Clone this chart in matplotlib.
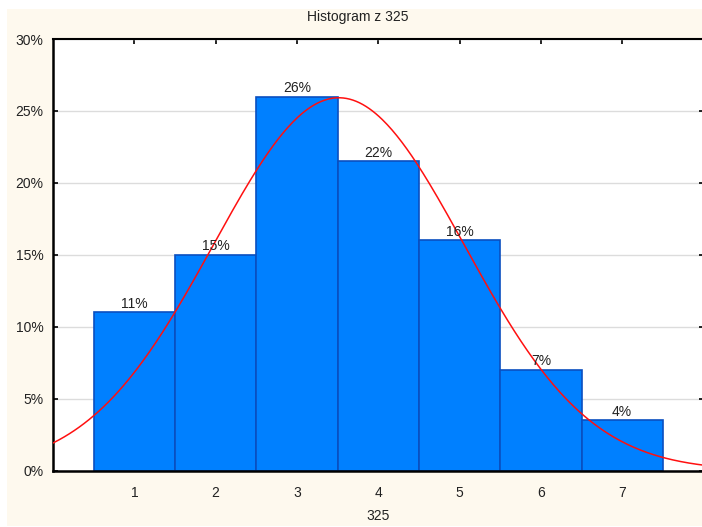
import numpy as np
import matplotlib
matplotlib.use("Agg")
import matplotlib.pyplot as plt
from matplotlib.patches import Rectangle

plt.rcParams['font.family'] = ['Liberation Sans', 'DejaVu Sans']

# Histogram of variable 325: share of answers per category (percent)
categories = [1, 2, 3, 4, 5, 6, 7]
percents = [11.0, 15.0, 26.0, 21.5, 16.0, 7.0, 3.5]
y_ticks = [0, 5, 10, 15, 20, 25, 30]
title = "Histogram z 325"
x_label = "325"

W, H = 702, 527
fig = plt.figure(figsize=(W / 100, H / 100), dpi=100, facecolor="white")

# cream panel behind the chart
fig.patches.append(Rectangle((7 / W, 1 - 526 / H), (W - 7) / W, (526 - 9) / H,
                             transform=fig.transFigure, facecolor="#FEF9EE",
                             edgecolor="none", zorder=-5))

left, right, top, bottom = 53, 703.5, 39, 470.5
ax = fig.add_axes([left / W, 1 - bottom / H, (right - left) / W, (bottom - top) / H])
ax.set_zorder(5)
ax.set_facecolor("white")

ax.set_xlim(0, 8)
ax.set_ylim(0, 30)

# bars
ax.bar(categories, percents, width=1.0, color="#0080FF", edgecolor="#0A4FC0",
       linewidth=1.2, zorder=2)

# value labels above bars
for x, p in zip(categories, percents):
    ax.annotate(f"{p:.0f}%", (x, p), xytext=(0, 1.0), textcoords="offset points",
                ha="center", va="bottom", fontsize=10, color="#222222", zorder=4)

# fitted normal curve (mean and sd from the categorical distribution)
c = np.array(categories, dtype=float)
w = np.array(percents) / np.sum(percents)
mu = np.sum(c * w)
sd = np.sqrt(np.sum(w * (c - mu) ** 2))
xs = np.linspace(0, 8, 400)
ys = np.sum(percents) / (sd * np.sqrt(2 * np.pi)) * np.exp(-0.5 * ((xs - mu) / sd) ** 2)
ax.plot(xs, ys, color="#FF1010", linewidth=1.1, zorder=3, clip_on=True)

# grid and ticks
ax.set_yticks(y_ticks)
ax.set_yticklabels([f"{t}%" for t in y_ticks])
ax.set_xticks(categories)
ax.set_xticklabels([str(c_) for c_ in categories])
ax.yaxis.grid(True, color="#DCDCDC", linewidth=1.0, zorder=0)
ax.set_axisbelow(True)
ax.tick_params(axis="both", direction="in", length=3.5, width=1.2, color="black",
               labelsize=10, labelcolor="#222222", top=True, right=True)
ax.tick_params(axis="y", pad=7)
ax.tick_params(axis="x", pad=11)

for s in ["left", "bottom"]:
    ax.spines[s].set_linewidth(1.8)
ax.spines["top"].set_linewidth(1.5)
ax.spines["right"].set_linewidth(1.5)
for s in ax.spines.values():
    s.set_color("black")

fig.text(358 / W, 1 - 17.5 / H, title, ha="center", va="center",
         fontsize=10, color="#222222")
fig.text(378 / W, 1 - 516 / H, x_label, ha="center", va="center",
         fontsize=10, color="#222222")

fig.savefig("out.png", dpi=100, facecolor="white")
